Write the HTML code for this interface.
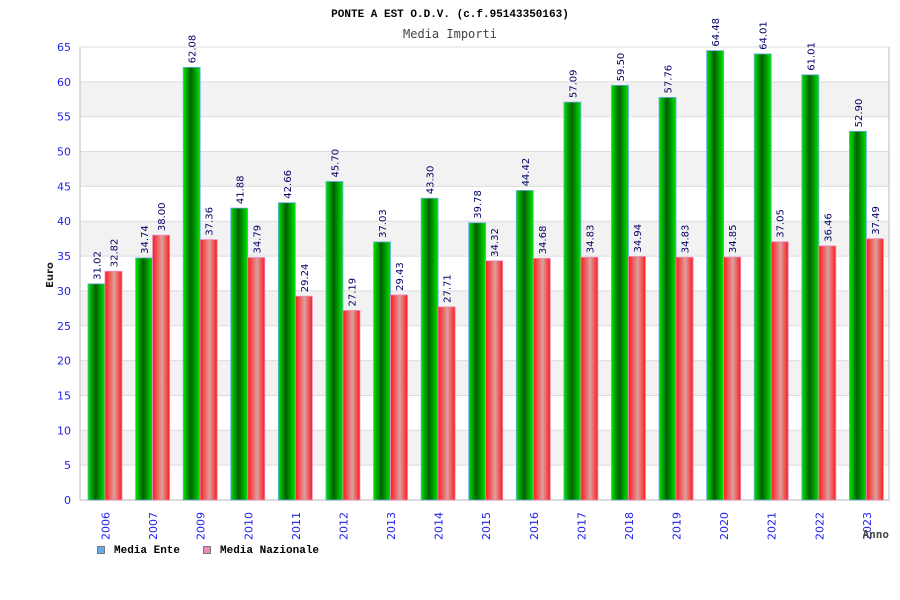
<!DOCTYPE html>
<html><head><meta charset="utf-8"><style>
body{margin:0;background:#fff;}
svg{display:block;}
</style></head><body>
<svg id="chart" width="900" height="600" xmlns="http://www.w3.org/2000/svg">
<defs>
<linearGradient id="gg" x1="0" x2="1" y1="0" y2="0">
<stop offset="0" stop-color="#00e600"/><stop offset="0.45" stop-color="#005f00"/><stop offset="1" stop-color="#00e600"/>
</linearGradient>
<linearGradient id="rg" x1="0" x2="1" y1="0" y2="0">
<stop offset="0" stop-color="#ff1a1a"/><stop offset="0.55" stop-color="#dca0a0"/><stop offset="1" stop-color="#ff1a1a"/>
</linearGradient>
</defs>
<text x="450" y="17" text-anchor="middle" font-family="Liberation Mono, monospace" font-weight="bold" font-size="11">PONTE A EST O.D.V. (c.f.95143350163)</text>
<text x="450" y="38" text-anchor="middle" font-family="DejaVu Sans Mono, monospace" font-size="12" fill="#444">Media Importi</text>
<g id="grid"></g>
<g id="bars"></g>
<g id="labels"></g>
<text transform="translate(53,275) rotate(-90)" text-anchor="middle" font-family="DejaVu Sans, sans-serif" font-weight="bold" font-size="10" fill="#222">Euro</text>
<text x="889" y="538" text-anchor="end" font-family="DejaVu Sans Mono, monospace" font-weight="bold" font-size="11" fill="#444">Anno</text>
<g>
<rect x="97.5" y="546.5" width="7" height="7" fill="#66aaee" stroke="#777"/>
<text x="114" y="553" font-family="Liberation Mono, monospace" font-weight="bold" font-size="11">Media Ente</text>
<rect x="203.5" y="546.5" width="7" height="7" fill="#ee88bb" stroke="#777"/>
<text x="220" y="553" font-family="Liberation Mono, monospace" font-weight="bold" font-size="11">Media Nazionale</text>
</g>
</svg>
<script>
const categories=["2006","2007","2009","2010","2011","2012","2013","2014","2015","2016","2017","2018","2019","2020","2021","2022","2023"];
const enteValues=[31.02,34.74,62.08,41.88,42.66,45.70,37.03,43.30,39.78,44.42,57.09,59.50,57.76,64.48,64.01,61.01,52.90];
const nazValues=[32.82,38.00,37.36,34.79,29.24,27.19,29.43,27.71,34.32,34.68,34.83,34.94,34.83,34.85,37.05,36.46,37.49];
const yTicks=[0,5,10,15,20,25,30,35,40,45,50,55,60,65];
const NS="http://www.w3.org/2000/svg";
const L=80,R=889,T=47,B=500,YMAX=65;
const y=v=>B-(v/YMAX)*(B-T);
const step=(R-L)/categories.length;
const gx=i=>L+i*step;
function mk(tag,attrs,parent){const e=document.createElementNS(NS,tag);for(const k in attrs)e.setAttribute(k,attrs[k]);parent.appendChild(e);return e;}
const grid=document.getElementById('grid'),bars=document.getElementById('bars'),labels=document.getElementById('labels');
for(let k=0;k<yTicks.length-1;k++){
  if(k%2===1){const b=mk('rect',{x:L,y:y(yTicks[k+1]),width:R-L,height:y(yTicks[k])-y(yTicks[k+1]),fill:'#f2f2f2'},grid);
  
  }
}
yTicks.forEach(t=>{
  const l=mk('line',{x1:L,x2:R,y1:y(t),y2:y(t),stroke:'#dcdcdc'},grid);
  
  
  const tx=mk('text',{x:71,y:y(t)+4,'text-anchor':'end','font-family':'DejaVu Sans, sans-serif','font-size':'11',fill:'#2222ee'},grid);
  tx.textContent=t;
  
  
});
mk('path',{d:`M${L},${T}V${B}H${R}V${T}`,fill:'none',stroke:'#d0d0d0','stroke-width':1.5},grid);
categories.forEach((c,i)=>{
  const x0=gx(i)+8,w=17;
  const g=mk('rect',{x:x0,y:y(enteValues[i]),width:w,height:B-y(enteValues[i]),fill:'url(#gg)',stroke:'#66aaee','stroke-width':0.8},bars);
  
  
  const r=mk('rect',{x:x0+w,y:y(nazValues[i]),width:w,height:B-y(nazValues[i]),fill:'url(#rg)',stroke:'#ee88bb','stroke-width':0.8},bars);
  
  
  [[enteValues[i],x0+w/2],[nazValues[i],x0+w*1.5]].forEach(([v,cx])=>{
    const t=mk('text',{transform:`translate(${cx+4},${y(v)-4}) rotate(-90)`,'font-family':'DejaVu Sans, sans-serif','font-size':'10',fill:'#000066'},labels);
    t.textContent=v.toFixed(2);
    
    
  });
  const xl=mk('text',{transform:`translate(${x0+w+4.5},${540}) rotate(-90)`,'font-family':'DejaVu Sans, sans-serif','font-size':'11',fill:'#2222ee'},labels);
  xl.textContent=c;
  
  
});
</script>
</body></html>
